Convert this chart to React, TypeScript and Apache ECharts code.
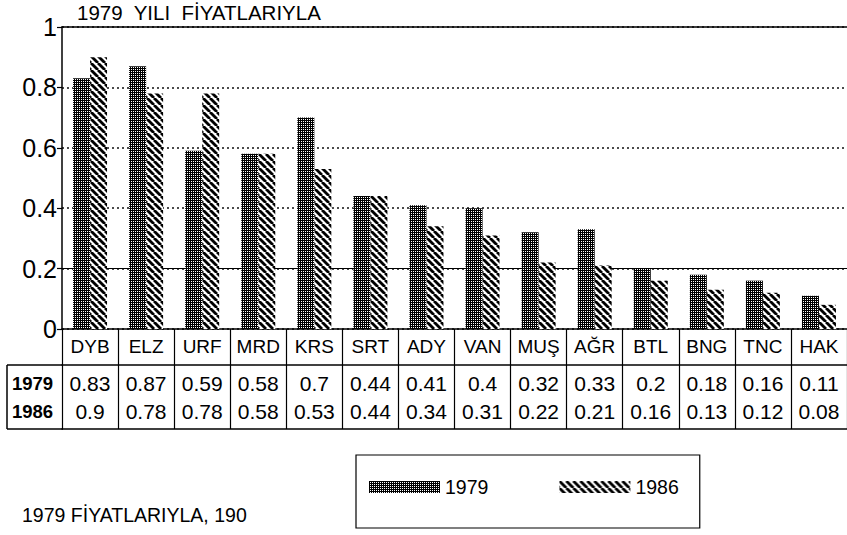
import React, { useEffect, useRef } from 'react';
import * as echarts from 'echarts';

const categories = ['DYB', 'ELZ', 'URF', 'MRD', 'KRS', 'SRT', 'ADY', 'VAN', 'MUŞ', 'AĞR', 'BTL', 'BNG', 'TNC', 'HAK'];
const values1979 = [0.83, 0.87, 0.59, 0.58, 0.7, 0.44, 0.41, 0.4, 0.32, 0.33, 0.2, 0.18, 0.16, 0.11];
const values1986 = [0.9, 0.78, 0.78, 0.58, 0.53, 0.44, 0.34, 0.31, 0.22, 0.21, 0.16, 0.13, 0.12, 0.08];
const seriesNames = ['1979', '1986'];
const titleText = '1979  YILI  FİYATLARIYLA';
const footnoteText = '1979 FİYATLARIYLA, 190';

const FONT = "'Liberation Sans', Arial, sans-serif";

function makeDense() {
  const c = document.createElement('canvas');
  c.width = 4;
  c.height = 4;
  const g = c.getContext('2d')!;
  g.fillStyle = '#000';
  g.fillRect(0, 0, 4, 4);
  g.fillStyle = '#fff';
  [[1, 1], [3, 3], [3, 1], [1, 3]].forEach(([x, y]) => g.fillRect(x, y, 1, 1));
  return c;
}

function makeStripe() {
  const s = 7;
  const c = document.createElement('canvas');
  c.width = s;
  c.height = s;
  const g = c.getContext('2d')!;
  g.fillStyle = '#fff';
  g.fillRect(0, 0, s, s);
  g.strokeStyle = '#000';
  g.lineWidth = 2.8;
  [-s, 0, s].forEach((o) => {
    g.beginPath();
    g.moveTo(o, 0);
    g.lineTo(o + s, s);
    g.stroke();
  });
  return c;
}

export default function App() {
  const ref = useRef<HTMLDivElement>(null);
  useEffect(() => {
    if (!ref.current) return;
    const chart = echarts.init(ref.current, null, { renderer: 'svg' });
    const dense = { image: makeDense(), repeat: 'repeat', imageWidth: 4, imageHeight: 4 };
    const stripe = { image: makeStripe(), repeat: 'repeat', imageWidth: 7, imageHeight: 7 };
    const lineStyle = { color: '#000', width: 1.5 };
    const option: any = {
      animation: false,
      backgroundColor: '#fff',
      textStyle: { fontFamily: FONT, color: '#000' },
      grid: { left: 62, right: -2, top: 27, bottom: 206, containLabel: false },
      legend: {
        left: 356,
        top: 455,
        icon: 'rect',
        itemWidth: 71,
        itemHeight: 12,
        itemGap: 71,
        padding: [22, 21, 31, 13],
        borderColor: '#000',
        borderWidth: 1.2,
        selectedMode: false,
        data: seriesNames,
        textStyle: { fontSize: 19.5, color: '#000', fontFamily: FONT },
      },
      xAxis: [
        {
          type: 'category', data: categories, position: 'bottom', offset: 0,
          axisLine: { show: true, lineStyle },
          axisTick: { show: true, length: 36, interval: 0, lineStyle: { color: '#000', width: 1.2 } },
          axisLabel: { interval: 0, margin: 8, fontSize: 19, color: '#000', fontFamily: FONT },
        },
        {
          type: 'category', data: categories, position: 'bottom', offset: 36,
          axisLine: { show: true, lineStyle },
          axisTick: { show: true, length: 64, interval: 0, lineStyle: { color: '#000', width: 1.2 } },
          axisLabel: { interval: 0, margin: 8, fontSize: 21, color: '#000', fontFamily: FONT, formatter: (_v: string, i: number) => String(values1979[i]) },
        },
        {
          type: 'category', data: categories, position: 'bottom', offset: 64,
          axisLine: { show: false }, axisTick: { show: false },
          axisLabel: { interval: 0, margin: 8, fontSize: 21, color: '#000', fontFamily: FONT, formatter: (_v: string, i: number) => String(values1986[i]) },
        },
        {
          type: 'category', data: categories, position: 'bottom', offset: 100,
          axisLine: { show: true, lineStyle }, axisTick: { show: false }, axisLabel: { show: false },
        },
        {
          type: 'category', data: categories, position: 'top', offset: 0,
          axisLine: { show: true, lineStyle }, axisTick: { show: false }, axisLabel: { show: false },
        },
      ],
      yAxis: {
        type: 'value', min: 0, max: 1, interval: 0.2,
        axisLine: { show: true, lineStyle },
        axisTick: { show: true, length: 5, lineStyle: { color: '#000', width: 1.2 } },
        axisLabel: { fontSize: 25, margin: 5, color: '#000', fontFamily: FONT, showMinLabel: true, showMaxLabel: true, formatter: (v: number) => String(+v.toFixed(1)) },
        splitLine: { show: true, lineStyle: { color: '#111', type: [2, 3], width: 1.5 } },
      },
      series: [
        {
          name: seriesNames[0], type: 'bar', data: values1979, barWidth: 17, barGap: '0%',
          itemStyle: { color: dense },
          markLine: {
            silent: true, symbol: 'none', z: 1, label: { show: false },
            lineStyle: { color: '#000', type: 'solid', width: 1.2 },
            data: [{ yAxis: 0.2 }],
          },
        },
        {
          name: seriesNames[1], type: 'bar', data: values1986, barWidth: 17, barGap: '0%',
          itemStyle: { color: stripe },
        },
      ],
      graphic: [
        { type: 'text', x: 77, y: 12, style: { text: titleText, fontSize: 20.5, fontFamily: FONT, fill: '#000', verticalAlign: 'middle' } },
        { type: 'text', x: 22, y: 515, style: { text: footnoteText, fontSize: 19.5, fontFamily: FONT, fill: '#000', verticalAlign: 'middle' } },
        { type: 'text', x: 12, y: 383, style: { text: seriesNames[0], fontSize: 18.5, fontWeight: 'bold', fontFamily: FONT, fill: '#000', verticalAlign: 'middle' } },
        { type: 'text', x: 12, y: 411, style: { text: seriesNames[1], fontSize: 18.5, fontWeight: 'bold', fontFamily: FONT, fill: '#000', verticalAlign: 'middle' } },
        { type: 'line', shape: { x1: 7, y1: 365, x2: 63, y2: 365 }, style: { stroke: '#000', lineWidth: 1.5 } },
        { type: 'line', shape: { x1: 7, y1: 429, x2: 63, y2: 429 }, style: { stroke: '#000', lineWidth: 1.5 } },
        { type: 'line', shape: { x1: 7, y1: 365, x2: 7, y2: 429 }, style: { stroke: '#000', lineWidth: 1.5 } },
      ],
    };
    chart.setOption(option);
    return () => chart.dispose();
  }, []);
  return <div ref={ref} style={{ position: 'fixed', left: 0, top: 0, width: 847, height: 535, background: '#fff' }} />;
}
